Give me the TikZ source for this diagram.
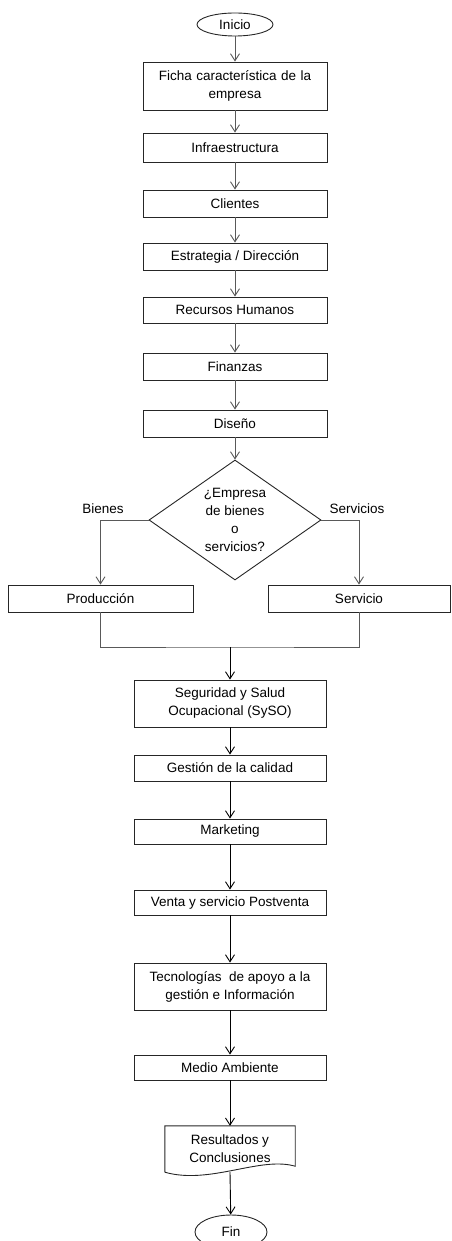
\documentclass[tikz,border=0pt]{standalone}
\usepackage{fontspec}
\setmainfont{Liberation Sans}
\usetikzlibrary{shapes.geometric,arrows.meta}

\begin{document}
\begin{tikzpicture}[x=1pt,y=-1pt,
    texto/.style={font=\fontsize{13.5}{18}\selectfont},
    caja/.style={texto, draw=black!85, line width=0.9pt, rectangle, align=center, inner sep=1pt, minimum width=184pt, minimum height=27pt},
    cajab/.style={caja, minimum width=192pt},
    terminal/.style={texto, draw=black!85, line width=0.9pt, ellipse, inner sep=0pt},
    flecha/.style={draw=black!65, line width=0.9pt, -{Straight Barb[length=7pt,width=9pt]}},
    flechab/.style={flecha, draw=black}]
    \useasboundingbox (0,0) rectangle (451,1241);
    \clip (0,0) rectangle (451,1241);

    % Inicio y bloques superiores
    \node[terminal, minimum width=76pt, minimum height=23pt] (inicio) at (235,24.5) {Inicio};
    \node[caja, minimum height=48pt, text width=176pt] (ficha) at (235,86) {Ficha característica de la\\empresa};
    \node[caja, minimum height=29pt] (infra) at (235,147.5) {Infraestructura};
    \node[caja] (clientes) at (235,203.5) {Clientes};
    \node[caja] (estrategia) at (235,256.5) {Estrategia / Dirección};
    \node[caja, minimum height=26pt] (recursos) at (235,310) {Recursos Humanos};
    \node[caja] (finanzas) at (235,366.5) {Finanzas};
    \node[caja] (diseno) at (235,423.5) {Diseño};

    % Decision
    \node[texto, draw=black!85, line width=0.9pt, diamond, aspect=1.43, inner sep=0pt, align=center,
          minimum width=172pt, minimum height=120pt] (decision) at (235,520) {¿Empresa\\de bienes\\o\\servicios?};
    \node[texto] (bienes) at (103,509) {Bienes};
    \node[texto] (servicios) at (357,509) {Servicios};
    \node[caja, minimum width=185pt] (produccion) at (100.5,598.5) {Producción};
    \node[caja, minimum width=182pt] (servicio) at (359,598.5) {Servicio};
    \coordinate (union) at (230,647);

    % Bloques inferiores
    \node[cajab, minimum height=47pt] (syso) at (230,703.5) {Seguridad y Salud\\Ocupacional (SySO)};
    \node[cajab, minimum height=26pt] (calidad) at (230,768) {Gestión de la calidad};
    \node[cajab, minimum height=25pt] (marketing) at (230,831.5) {Marketing};
    \node[cajab, minimum height=25pt] (venta) at (230,902.5) {Venta y servicio Postventa};
    \node[cajab, minimum height=47pt] (tecno) at (230,986.5) {Tecnologías\ \ de apoyo a la\\gestión e Información};
    \node[cajab, minimum height=25pt] (medio) at (230,1067.5) {Medio Ambiente};
    \node[texto, align=center, inner sep=0pt, minimum width=130pt, minimum height=46pt] (resultados) at (230,1149) {Resultados y\\Conclusiones};
    \draw[draw=black!85, line width=0.9pt] (resultados.south west) -- (resultados.north west) -- (resultados.north east)
        -- ([yshift=6pt]resultados.south east) .. controls (260,1156) and (210,1185) .. (resultados.south west);
    \node[terminal, minimum width=72pt, minimum height=34pt] (fin) at (231,1232) {Fin};

    % Conectores
    \draw[flecha] (inicio) -- (ficha);
    \draw[flecha] (ficha) -- (infra);
    \draw[flecha] (infra) -- (clientes);
    \draw[flecha] (clientes) -- (estrategia);
    \draw[flecha] (estrategia) -- (recursos);
    \draw[flecha] (recursos) -- (finanzas);
    \draw[flecha] (finanzas) -- (diseno);
    \draw[flecha] (diseno) -- (decision);
    \draw[flecha] (decision.west) -| (produccion.north);
    \draw[flecha] (decision.east) -| (servicio.north);
    \draw[draw=black!65, line width=0.9pt] (produccion.south) |- (union) -| (servicio.south);
    \draw[flechab] (union) -- (syso);
    \draw[flechab] (syso) -- (calidad);
    \draw[flechab] (calidad) -- (marketing);
    \draw[flechab] (marketing) -- (venta);
    \draw[flechab] (venta) -- (tecno);
    \draw[flechab] (tecno) -- (medio);
    \draw[flechab] (medio) -- (resultados);
    \draw[flechab] (resultados.south) -- (fin);
\end{tikzpicture}
\end{document}
